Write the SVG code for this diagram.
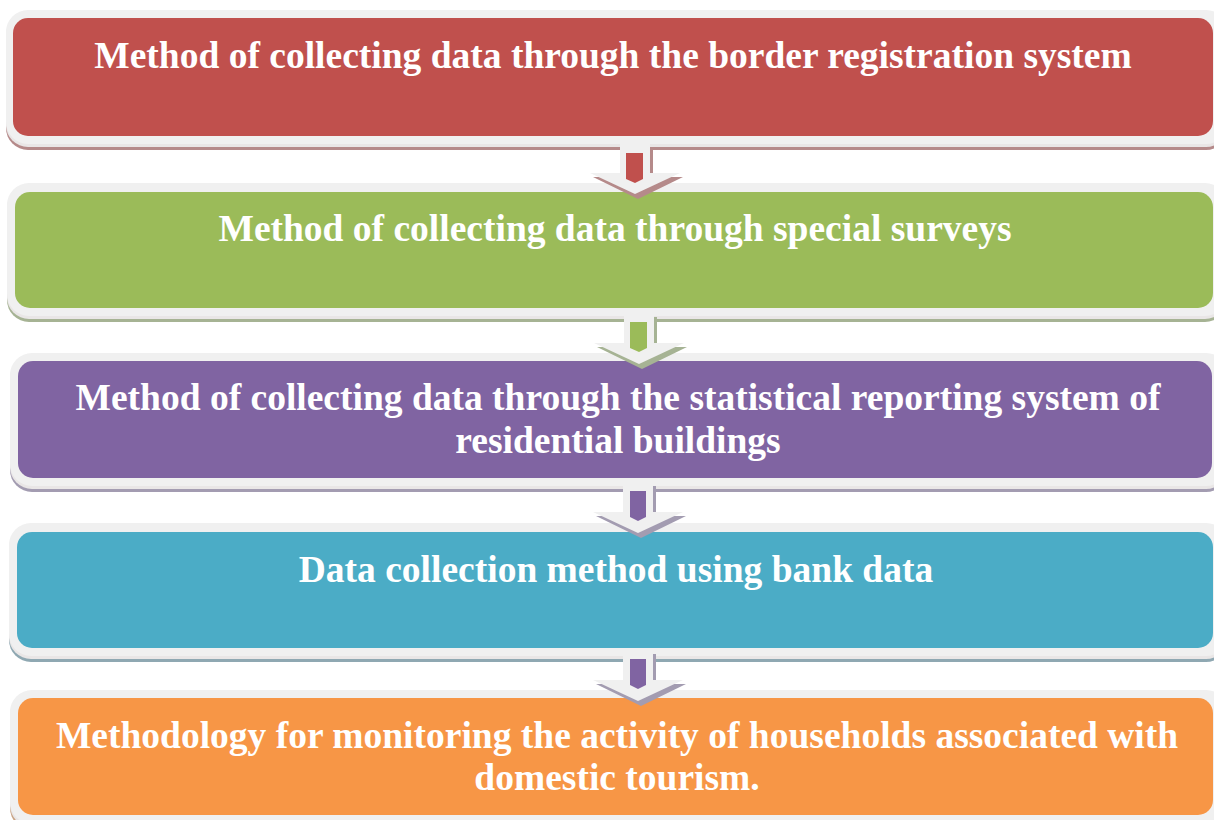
<svg xmlns="http://www.w3.org/2000/svg" width="1214" height="820" viewBox="0 0 1214 820">
<style>
.t{font-family:"Liberation Serif","Times New Roman",serif;font-weight:bold;font-size:37.5px;fill:#ffffff;text-anchor:middle}
.outer{fill:#f0f0f0}
.hl{fill:#e9e6e6}
</style>
<rect width="1214" height="820" fill="#ffffff"/>
<g id="node1">
<rect x="6" y="16" width="1222" height="134" rx="22" fill="#b58a8a"/>
<rect x="6" y="13" width="1222" height="134" rx="22" class="hl"/>
<rect x="6" y="10" width="1222" height="134" rx="22" class="outer"/>
<rect x="13" y="18" width="1200" height="118" rx="15" fill="#c0504d"/>
<text class="t" x="613" y="68">Method of collecting data through the border registration system</text>
</g>
<g id="node2">
<rect x="7" y="189" width="1220" height="133" rx="22" fill="#a6b394"/>
<rect x="7" y="186" width="1220" height="133" rx="22" class="hl"/>
<rect x="7" y="183" width="1220" height="133" rx="22" class="outer"/>
<rect x="15" y="192" width="1198" height="116" rx="15" fill="#9bbb59"/>
<text class="t" x="615" y="241">Method of collecting data through special surveys</text>
</g>
<g id="node3">
<rect x="10" y="359" width="1218" height="133" rx="22" fill="#a39cb1"/>
<rect x="10" y="356" width="1218" height="133" rx="22" class="hl"/>
<rect x="10" y="353" width="1218" height="133" rx="22" class="outer"/>
<rect x="18" y="361" width="1194" height="117" rx="15" fill="#8064a2"/>
<text class="t" x="618" y="410">Method of collecting data through the statistical reporting system of</text>
<text class="t" x="618" y="453">residential buildings</text>
</g>
<g id="node4">
<rect x="9" y="529" width="1219" height="133" rx="22" fill="#8fa8b2"/>
<rect x="9" y="526" width="1219" height="133" rx="22" class="hl"/>
<rect x="9" y="523" width="1219" height="133" rx="22" class="outer"/>
<rect x="17" y="532" width="1196" height="116" rx="15" fill="#4bacc6"/>
<text class="t" x="616" y="582">Data collection method using bank data</text>
</g>
<g id="node5">
<rect x="10" y="696" width="1218" height="134" rx="22" fill="#c8a283"/>
<rect x="10" y="693" width="1218" height="134" rx="22" class="hl"/>
<rect x="10" y="690" width="1218" height="134" rx="22" class="outer"/>
<rect x="18" y="698" width="1195" height="117" rx="15" fill="#f79646"/>
<text class="t" x="617" y="748">Methodology for monitoring the activity of households associated with</text>
<text class="t" x="617" y="790">domestic tourism.</text>
</g>
<g id="connectors">
<g transform="translate(635,142)">
<polygon points="-13,5 18,5 18,35 48,35 3,57 -42,35 -13,35" fill="#b58a8a"/>
<polygon points="-15,0 15,0 15,31 45,31 0,52 -45,31 -15,31" fill="#f0f0f0"/>
<polygon points="-9,11 8,11 8,37 0,41 -9,37" fill="#c0504d"/>
</g>
<g transform="translate(639,312)">
<polygon points="-13,5 18,5 18,35 48,35 3,57 -42,35 -13,35" fill="#a6b394"/>
<polygon points="-15,0 15,0 15,31 45,31 0,52 -45,31 -15,31" fill="#f0f0f0"/>
<polygon points="-9,10 8,10 8,36 0,40 -9,36" fill="#9bbb59"/>
</g>
<g transform="translate(638,481)">
<polygon points="-13,5 18,5 18,35 48,35 3,57 -42,35 -13,35" fill="#a39cb1"/>
<polygon points="-15,0 15,0 15,31 45,31 0,52 -45,31 -15,31" fill="#f0f0f0"/>
<polygon points="-8,10 8,10 8,36 0,40 -8,36" fill="#8064a2"/>
</g>
<g transform="translate(638,649)">
<polygon points="-13,5 18,5 18,35 48,35 3,57 -42,35 -13,35" fill="#a39cb1"/>
<polygon points="-15,0 15,0 15,31 45,31 0,52 -45,31 -15,31" fill="#f0f0f0"/>
<polygon points="-8,10 8,10 8,36 0,40 -8,36" fill="#8064a2"/>
</g>
</g>
</svg>
